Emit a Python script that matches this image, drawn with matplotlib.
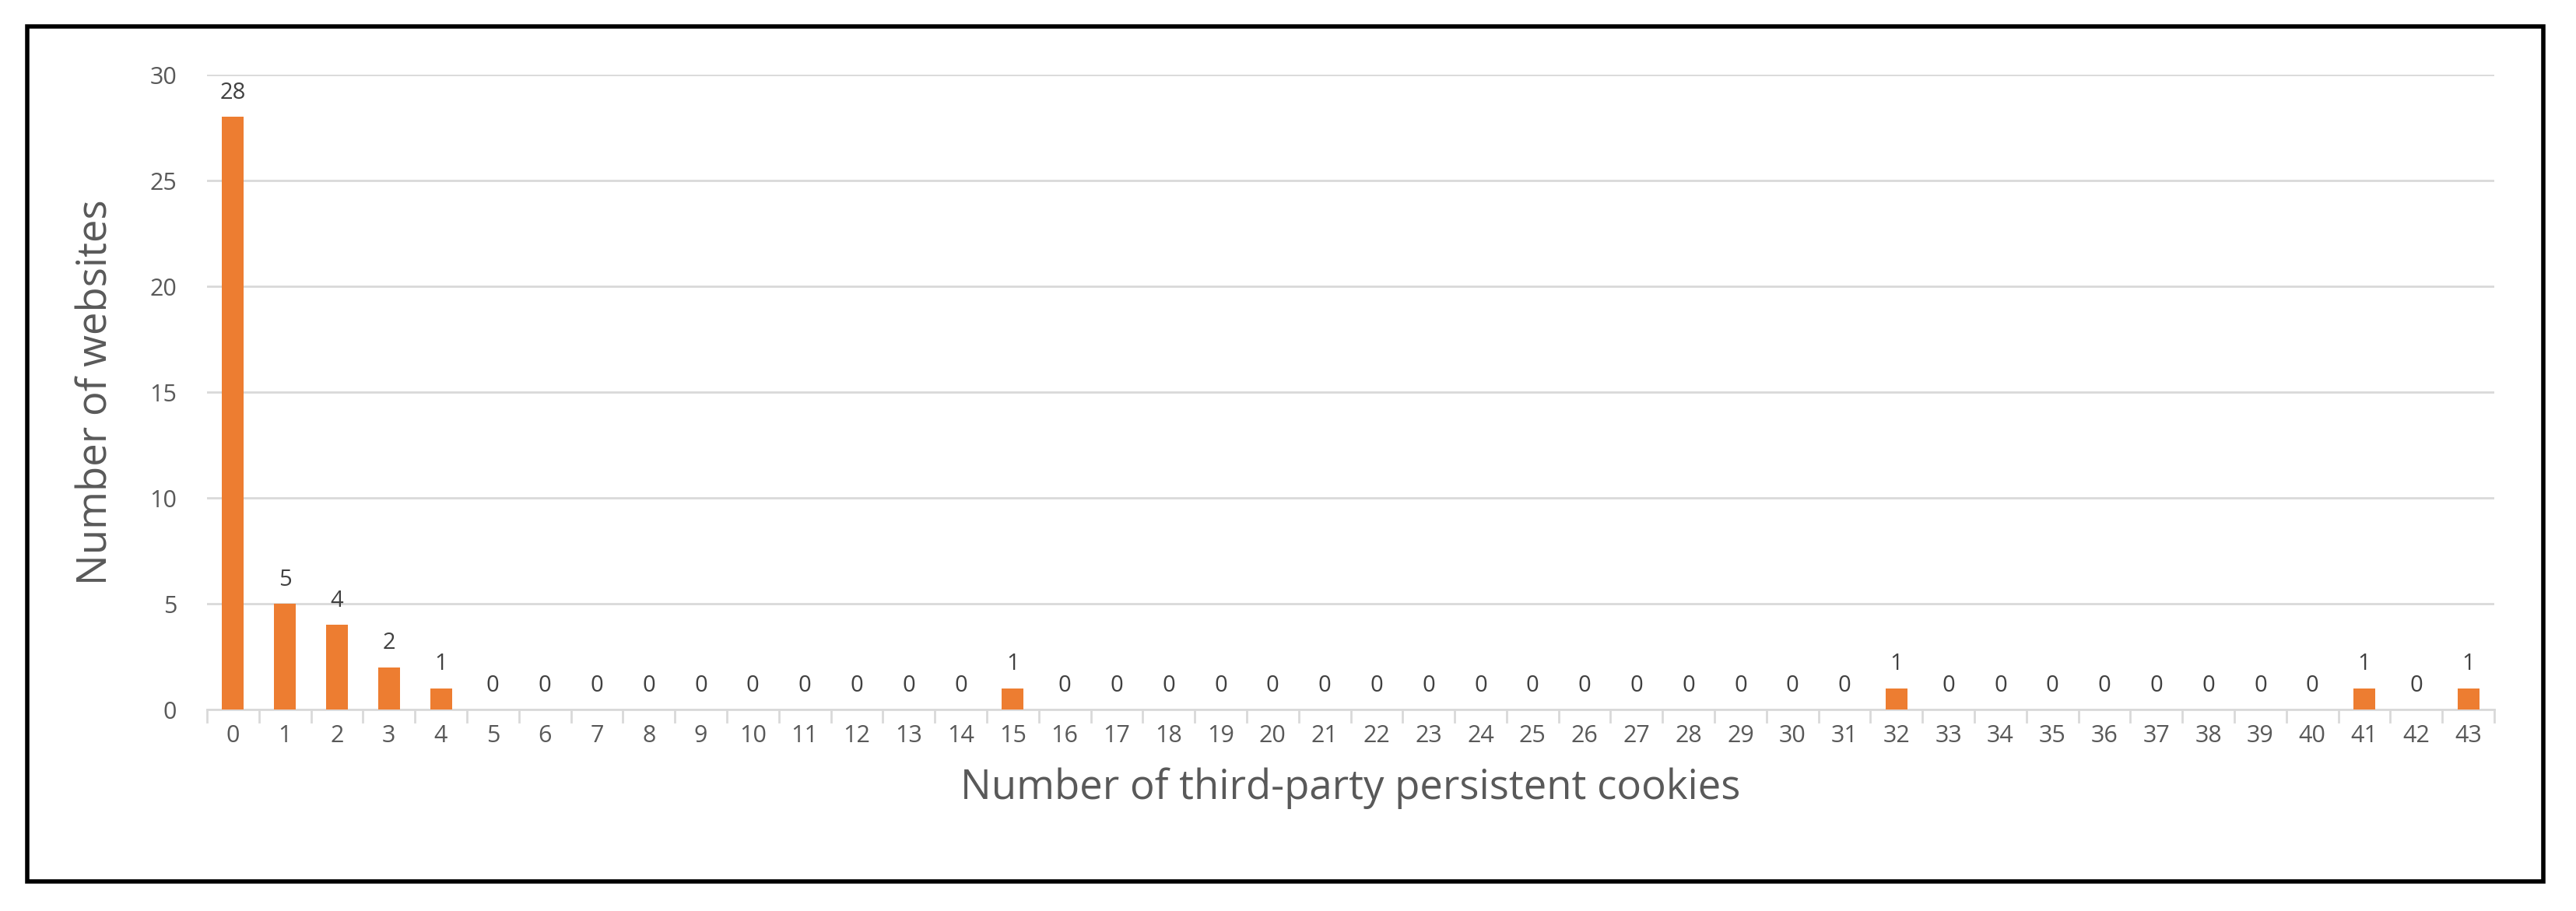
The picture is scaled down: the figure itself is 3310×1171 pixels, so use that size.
import matplotlib
matplotlib.use("Agg")
import matplotlib.pyplot as plt
from matplotlib.patches import Rectangle

categories = [str(i) for i in range(44)]
values = [28, 5, 4, 2, 1] + [0]*10 + [1] + [0]*16 + [1] + [0]*8 + [1, 0, 1]

plt.rcParams['font.family'] = ['Open Sans', 'DejaVu Sans']
W, H = 3310, 1171
fig = plt.figure(figsize=(W/100, H/100), dpi=100)
ax = fig.add_axes([266/W, 1-912/H, (3205-266)/W, (912-96)/H])
x = list(range(len(categories)))
bars = ax.bar(x, values, width=0.42, color='#ED7D31', zorder=3)
for xi, v in zip(x, values):
    ax.text(xi, v + 0.6, str(v), ha='center', va='bottom', fontsize=21, color='#404040')
ax.set_xlim(-0.5, len(categories) - 0.5)
ax.set_ylim(0, 30)
ax.set_yticks(range(0, 31, 5))
ax.set_xticks(x)
ax.set_xticklabels(categories)
ax.tick_params(axis='y', length=0, labelsize=22, labelcolor='#595959', pad=28)
ax.tick_params(axis='x', length=0, labelsize=22, labelcolor='#595959', pad=14)
for t in [i - 0.5 for i in range(len(categories) + 1)]:
    ax.plot([t, t], [0, -0.6], color='#D9D9D9', lw=2, clip_on=False)
ax.grid(axis='y', color='#D9D9D9', lw=2, zorder=0)
for s in ['top', 'right', 'left']:
    ax.spines[s].set_visible(False)
ax.spines['bottom'].set_color('#D9D9D9')
ax.spines['bottom'].set_linewidth(2)
ax.set_ylabel('Number of websites', fontsize=38, color='#595959', labelpad=30)
ax.set_xlabel('Number of third-party persistent cookies', fontsize=38, color='#595959', labelpad=18)
fig.patches.append(Rectangle((35/W, 1-1133/H), (3268-35)/W, (1133-34)/H,
                             transform=fig.transFigure, fill=False, edgecolor='black', lw=4))
fig.savefig('out.png', dpi=100)
